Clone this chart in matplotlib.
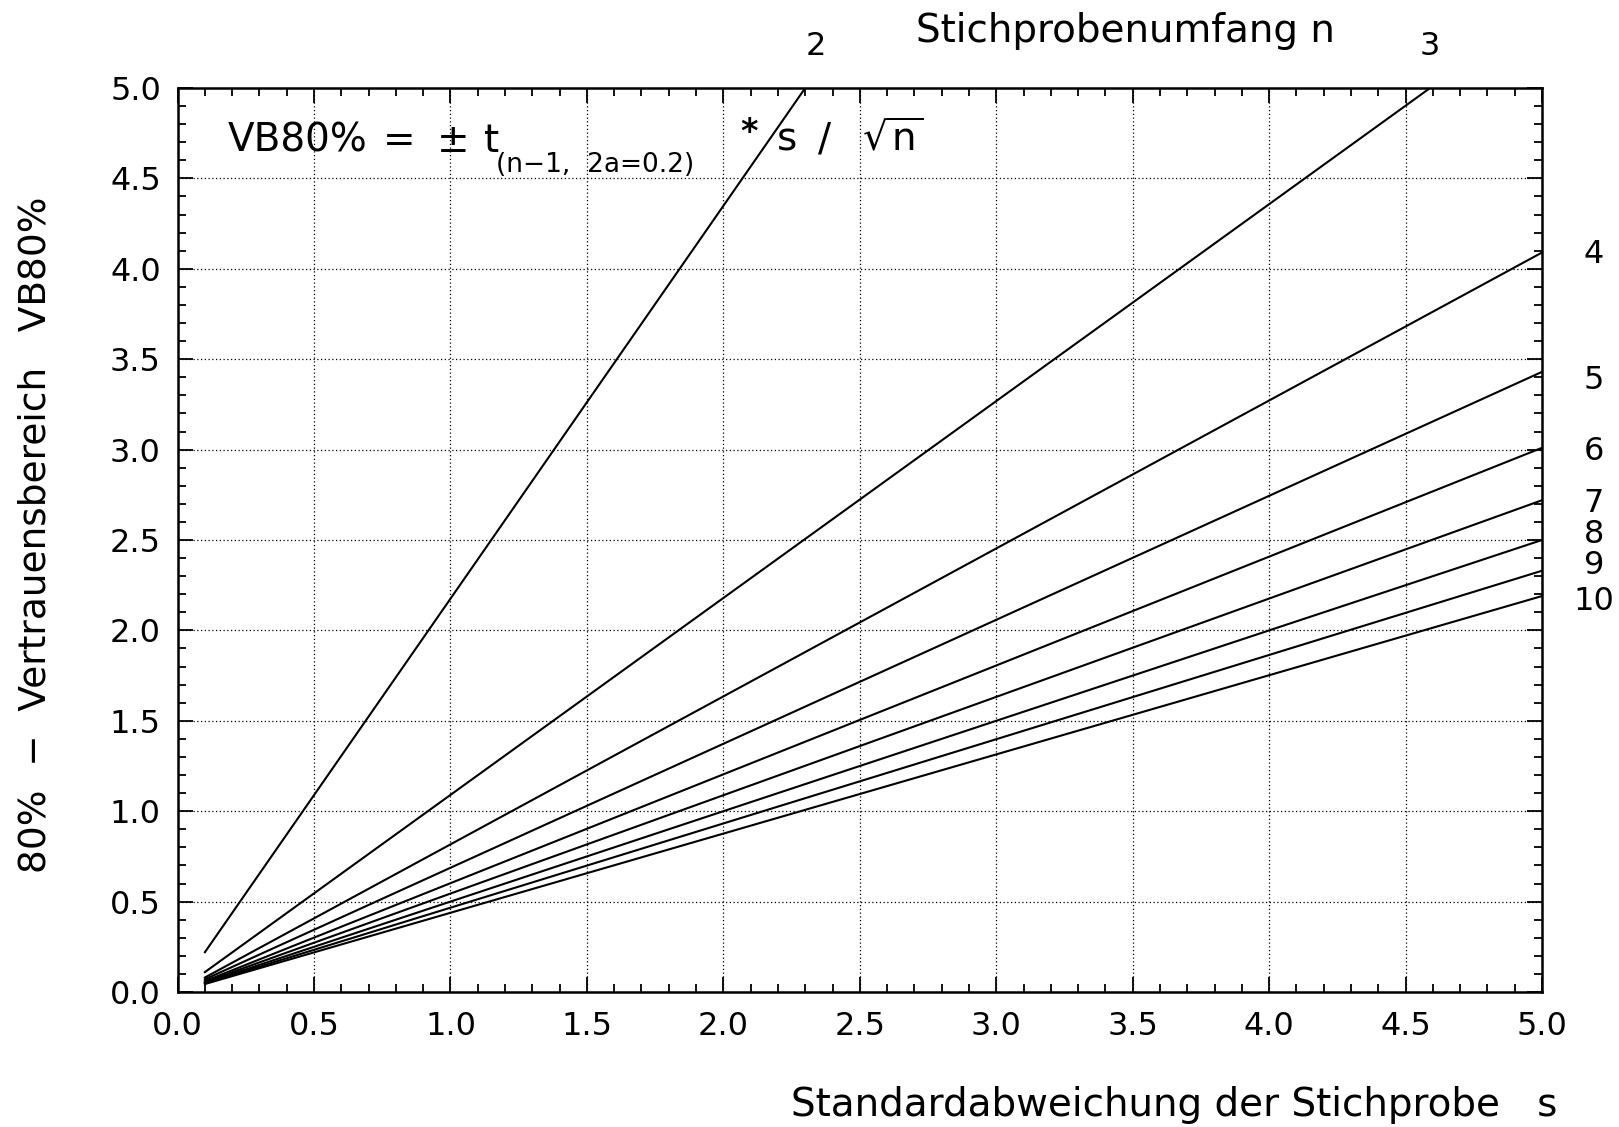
import matplotlib
matplotlib.use("Agg")
from matplotlib import pyplot as plt
from matplotlib.ticker import MultipleLocator

# sample size n and the two end points of each straight line
n_values = [2, 3, 4, 5, 6, 7, 8, 9, 10]
s_start = [0.1, 0.1, 0.1, 0.1, 0.1, 0.1, 0.1, 0.1, 0.1]
vb_start = [0.22, 0.11, 0.08, 0.07, 0.06, 0.055, 0.05, 0.047, 0.044]
s_end = [2.30, 4.59, 5.0, 5.0, 5.0, 5.0, 5.0, 5.0, 5.0]
vb_end = [5.0, 5.0, 4.09, 3.43, 3.01, 2.72, 2.50, 2.33, 2.19]

# where the n labels sit
right_labels = ["4", "5", "6", "7", "8", "9", "10"]
right_label_y = [4.08, 3.38, 2.99, 2.70, 2.53, 2.36, 2.16]
top_labels = ["2", "3"]
top_label_x = [2.34, 4.59]

W, H = 1619, 1127
fig = plt.figure(figsize=(W / 100, H / 100), dpi=100)
ax = fig.add_axes([177.6 / W, 1 - 992 / H, (1542 - 177.6) / W, (992 - 88) / H])

for i in range(len(n_values)):
    ax.plot([s_start[i], s_end[i]], [vb_start[i], vb_end[i]], color="black", lw=1.5)

ax.set_xlim(0, 5)
ax.set_ylim(0, 5)
ax.xaxis.set_major_locator(MultipleLocator(0.5))
ax.yaxis.set_major_locator(MultipleLocator(0.5))
ax.xaxis.set_minor_locator(MultipleLocator(0.1))
ax.yaxis.set_minor_locator(MultipleLocator(0.1))
ax.xaxis.set_major_formatter(lambda v, p: f"{v:.1f}")
ax.yaxis.set_major_formatter(lambda v, p: f"{v:.1f}")
ax.grid(True, which="major", linestyle=(0, (1, 2)), color="black", lw=0.9)
ax.tick_params(which="both", direction="in", top=True, right=True, width=1.3,
               labelsize=23)
ax.tick_params(which="major", length=11)
ax.tick_params(which="minor", length=6)
ax.tick_params(axis="x", which="major", pad=14)
ax.tick_params(axis="y", which="major", pad=12)
for sp in ax.spines.values():
    sp.set_linewidth(1.8)

for lab, y in zip(right_labels, right_label_y):
    ax.text(5.19, y, lab, fontsize=23, ha="center", va="center", clip_on=False)
for lab, x in zip(top_labels, top_label_x):
    ax.text(x, 5.23, lab, fontsize=23, ha="center", va="center", clip_on=False)


def px(x, y):
    return x / W, 1 - y / H


# formula
fig.text(*px(228, 152), "VB80%", fontsize=28, va="baseline")
fig.text(*px(383, 152), "=", fontsize=28, va="baseline")
fig.text(*px(437, 152), "±", fontsize=28, va="baseline")
fig.text(*px(484, 152), "t", fontsize=28, va="baseline")
fig.text(*px(496, 172), "(n\u22121,  2a=0.2)", fontsize=19, va="baseline")
fig.text(*px(740, 142), "*", fontsize=24, va="baseline", fontweight="bold")
fig.text(*px(777, 150), "s", fontsize=28, va="baseline")
fig.text(*px(818, 150), "/", fontsize=28, va="baseline")
fig.text(*px(862, 150), r"$\sqrt{\mathrm{n}}$", fontsize=28, va="baseline")

fig.text(*px(1125, 31), "Stichprobenumfang n", fontsize=28, ha="center", va="center")
fig.text(*px(1174, 1105), "Standardabweichung der Stichprobe   s", fontsize=28,
         ha="center", va="center")
fig.text(*px(36, 535), "80%  \u2212  Vertrauensbereich   VB80%", fontsize=27,
         ha="center", va="center", rotation=90)

fig.savefig("out.png", dpi=100)
